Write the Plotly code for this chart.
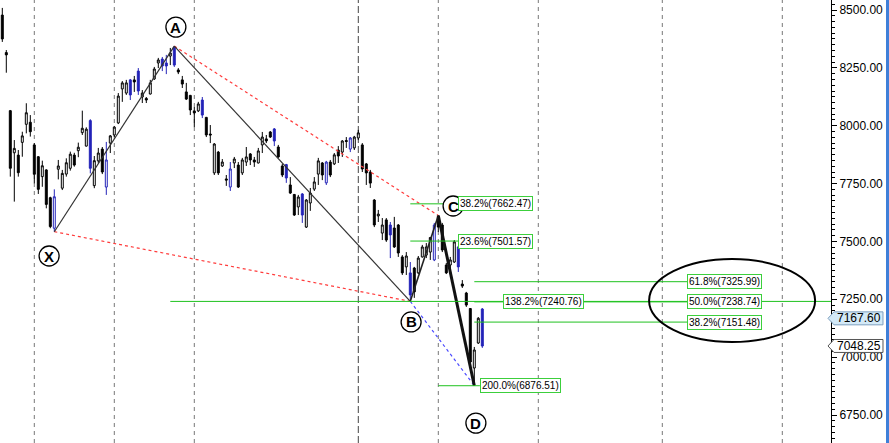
import plotly.graph_objects as go

# ---------------- data ----------------
opens = [8478, 8316, 8065, 7883, 7873, 7928, 8006, 8015, 7917, 7866,
         7780, 7809, 7689, 7557, 7812, 7730, 7791, 7816, 7873, 7892,
         7970, 7912, 8022, 7741, 7848, 7899, 7735, 7925, 7960, 8012,
         8159, 8141, 8198, 8198, 8236, 8124, 8118, 8137, 8202, 8271,
         8288, 8271, 8301, 8340, 8241, 8198, 8146, 8131, 8064, 8064,
         8111, 8036, 7964, 7796, 7886, 7826, 7770, 7735, 7839, 7830,
         7796, 7843, 7878, 7852, 7839, 7917, 7943, 7973, 7986, 7908,
         7826, 7832, 7744, 7703, 7649, 7705, 7562, 7666, 7726, 7791,
         7839, 7753, 7843, 7835, 7895, 7886, 7936, 7899, 7904, 7947,
         7917, 7835, 7800, 7679, 7610, 7536, 7593, 7571, 7558, 7571,
         7433, 7390, 7364, 7385, 7364, 7433, 7441, 7454, 7420, 7608,
         7571, 7398, 7398, 7411, 7476, 7316, 7277, 7210, 6953, 7061,
         7208]
highs = [8509, 8327, 8068, 7938, 7895, 7974, 8097, 8046, 7925, 7869,
         7849, 7812, 7693, 7725, 7852, 7809, 7859, 7888, 7883, 7927,
         8065, 7993, 8028, 7869, 7904, 7908, 7930, 7960, 7999, 8141,
         8193, 8198, 8202, 8215, 8249, 8154, 8124, 8198, 8254, 8293,
         8297, 8306, 8336, 8344, 8249, 8215, 8185, 8133, 8081, 8103,
         8124, 8038, 8003, 7925, 7891, 7856, 7787, 7843, 7865, 7843,
         7861, 7908, 7882, 7865, 7904, 7973, 7960, 7977, 7990, 7917,
         7835, 7835, 7778, 7705, 7701, 7709, 7683, 7731, 7778, 7861,
         7843, 7848, 7852, 7882, 7912, 7938, 7951, 7951, 7956, 7982,
         7925, 7839, 7809, 7683, 7636, 7601, 7601, 7584, 7606, 7575,
         7441, 7454, 7411, 7390, 7437, 7485, 7493, 7519, 7580, 7612,
         7580, 7407, 7433, 7506, 7480, 7333, 7282, 7212, 7044, 7173,
         7212]
lows = [8362, 8229, 7780, 7672, 7780, 7866, 7967, 7953, 7751, 7705,
        7736, 7643, 7557, 7542, 7768, 7722, 7780, 7806, 7823, 7864,
        7960, 7910, 7794, 7730, 7839, 7791, 7701, 7882, 7951, 8007,
        8103, 8133, 8111, 8146, 8133, 8098, 8098, 8135, 8198, 8249,
        8236, 8223, 8262, 8254, 8223, 8163, 8111, 8046, 7994, 8059,
        8033, 7951, 7925, 7787, 7787, 7822, 7740, 7718, 7817, 7731,
        7787, 7826, 7830, 7822, 7837, 7882, 7925, 7947, 7912, 7861,
        7778, 7753, 7705, 7610, 7614, 7580, 7558, 7632, 7718, 7744,
        7765, 7744, 7778, 7830, 7839, 7865, 7904, 7886, 7895, 7938,
        7800, 7744, 7731, 7562, 7584, 7506, 7498, 7428, 7472, 7433,
        7355, 7355, 7241, 7256, 7359, 7430, 7428, 7420, 7415, 7541,
        7454, 7359, 7377, 7407, 7368, 7299, 7217, 6970, 6877, 7057,
        7040]
closes = [8375, 8306, 7816, 7902, 7797, 7956, 8056, 7974, 7790, 7725,
          7827, 7660, 7564, 7693, 7826, 7794, 7840, 7877, 7830, 7907,
          7989, 7985, 7816, 7849, 7882, 7800, 7852, 7956, 7994, 8128,
          8185, 8185, 8133, 8189, 8150, 8141, 8111, 8185, 8245, 8284,
          8258, 8258, 8314, 8262, 8232, 8180, 8115, 8068, 8055, 8094,
          8046, 7960, 7960, 7921, 7796, 7843, 7765, 7813, 7856, 7735,
          7852, 7865, 7852, 7843, 7891, 7951, 7934, 7951, 7934, 7865,
          7787, 7774, 7709, 7614, 7692, 7614, 7679, 7709, 7757, 7848,
          7787, 7843, 7787, 7874, 7869, 7934, 7932, 7947, 7951, 7969,
          7813, 7796, 7752, 7571, 7618, 7571, 7506, 7528, 7476, 7450,
          7364, 7437, 7269, 7282, 7428, 7476, 7476, 7517, 7571, 7562,
          7463, 7364, 7420, 7498, 7390, 7307, 7225, 6979, 7031, 7168,
          7048]
blue_bars = [13, 22, 26, 32, 34, 40, 41, 43, 50, 57, 68, 71, 75, 81, 87,
             97, 102, 108, 114, 120]

# harmonic pattern pivots: (name, bar index, which price)
pivot_names = ["X", "A", "B", "C", "D"]
pivot_bars = [13, 43, 102, 109, 118]
pivot_kind = ["low", "high", "low", "high", "low"]

fib_labels = ["38.2%(7662.47)", "23.6%(7501.57)", "138.2%(7240.76)", "200.0%(6876.51)",
              "61.8%(7325.99)", "50.0%(7238.74)", "38.2%(7151.48)"]
fib_values = [7662.47, 7501.57, 7240.76, 6876.51, 7325.99, 7238.74, 7151.48]

last_price = 7167.60
prev_price = 7048.25

# ---------------- layout helpers ----------------
fib_from = [102, 102, 42, 109, 118, 118, 118]
fib_to = [114, 114, 207.2, 119.4, 171.2, 171.2, 171.2]
fib_box = [114, 114, 125.2, 119.4, 171.2, 171.2, 171.2]
grid_bars = [8, 28, 48, 89, 109, 134, 165, 195]
circle_pos = {"X": (11.7, 7437), "A": (43.4, 8426), "B": (102.2, 7152),
              "C": (112.7, 7653), "D": (118.4, 6715)}

n = len(opens)
idx = list(range(n))
norm = [i for i in idx if i not in blue_bars]

def pick(arr, sel):
    return [arr[i] for i in sel]

BLUE = "#2323b8"
fig = go.Figure()

fig.add_trace(go.Candlestick(
    x=norm, open=pick(opens, norm), high=pick(highs, norm),
    low=pick(lows, norm), close=pick(closes, norm),
    increasing=dict(line=dict(color="black", width=1), fillcolor="white"),
    decreasing=dict(line=dict(color="black", width=1), fillcolor="black"),
    whiskerwidth=0, hoverinfo="skip", showlegend=False))
fig.add_trace(go.Candlestick(
    x=blue_bars, open=pick(opens, blue_bars), high=pick(highs, blue_bars),
    low=pick(lows, blue_bars), close=pick(closes, blue_bars),
    increasing=dict(line=dict(color=BLUE, width=1), fillcolor="white"),
    decreasing=dict(line=dict(color=BLUE, width=1), fillcolor=BLUE),
    whiskerwidth=0, hoverinfo="skip", showlegend=False))

pv = {}
for nm, b, k in zip(pivot_names, pivot_bars, pivot_kind):
    pv[nm] = (b, lows[b] if k == "low" else highs[b])

def seg(p, q, color, width, dash="solid"):
    fig.add_trace(go.Scatter(x=[pv[p][0], pv[q][0]], y=[pv[p][1], pv[q][1]],
                             mode="lines", line=dict(color=color, width=width, dash=dash),
                             hoverinfo="skip", showlegend=False))

seg("X", "B", "#ff3b3b", 1.2, "3px,3px")
seg("A", "C", "#ff3b3b", 1.2, "3px,3px")
seg("B", "D", "#4a4aff", 1.2, "3px,3px")
seg("X", "A", "#333333", 1.2)
seg("A", "B", "#333333", 1.2)
seg("B", "C", "#222222", 1.6)
seg("C", "D", "#111111", 3)

shapes = []
annotations = []

# vertical dashed separators
for g in grid_bars:
    dark = (g == 89)
    shapes.append(dict(type="line", xref="x", yref="paper", x0=g, x1=g, y0=0, y1=1,
                       layer="below",
                       line=dict(color="#444444" if dark else "#777777", width=1,
                                 dash="7px,3px" if dark else "4px,4px")))

# fib level lines and labels
GREEN = "#1fc21f"
for lab, val, a, b, bx in zip(fib_labels, fib_values, fib_from, fib_to, fib_box):
    shapes.append(dict(type="line", xref="x", yref="y", x0=a, x1=b, y0=val, y1=val,
                       layer="above", line=dict(color=GREEN, width=1)))
    annotations.append(dict(x=bx, y=val, xref="x", yref="y", text=lab, showarrow=False,
                            xanchor="left", yanchor="middle",
                            font=dict(family="Liberation Sans", size=10, color="black"),
                            bgcolor="white", bordercolor="#3ccf3c", borderwidth=1, borderpad=1))

# pivot circles
for nm in pivot_names:
    cx, cy = circle_pos[nm]
    shapes.append(dict(type="circle", xref="x", yref="y", xsizemode="pixel", ysizemode="pixel",
                       xanchor=cx, yanchor=cy, x0=-10, x1=10, y0=-10, y1=10,
                       layer="above", fillcolor="white", line=dict(color="black", width=1.3)))
    annotations.append(dict(x=cx, y=cy, xref="x", yref="y", text="<b>%s</b>" % nm,
                            showarrow=False, xanchor="center", yanchor="middle",
                            font=dict(family="Liberation Sans", size=15, color="black")))

# ellipse around target zone
shapes.append(dict(type="circle", xref="x", yref="y", x0=161.7, x1=203.2, y0=7065, y1=7424,
                   layer="above", line=dict(color="black", width=2)))

# price markers on the axis
W = 831.0
def marker(price, fill, border):
    h = 28
    xt, xl, xr = 828 / W, 834 / W, 883 / W
    shapes.append(dict(type="path", xref="paper", yref="y", layer="above",
                       path="M %f,%f L %f,%f L %f,%f L %f,%f L %f,%f Z" % (
                           xt, price, xl, price + h, xr, price + h, xr, price - h, xl, price - h),
                       fillcolor=fill, line=dict(color=border, width=1)))
    annotations.append(dict(x=(xl + xr) / 2, y=price, xref="paper", yref="y",
                            text="%.2f" % price, showarrow=False, xanchor="center",
                            yanchor="middle",
                            font=dict(family="Liberation Sans", size=12, color="black")))

marker(last_price, "#d3e9f7", "#7d9fbf")
marker(prev_price, "white", "#555555")

# blue bar at right edge
shapes.append(dict(type="rect", xref="paper", yref="paper", x0=886 / W, x1=889.5 / W,
                   y0=0, y1=1, fillcolor="#3f7fd8", line=dict(width=0), layer="above"))

fig.update_layout(
    width=889, height=443,
    margin=dict(l=0, r=58, t=0, b=0, pad=0, autoexpand=False),
    paper_bgcolor="white", plot_bgcolor="white",
    showlegend=False, hovermode=False,
    shapes=shapes, annotations=annotations,
    xaxis=dict(range=[-0.575, 207.175], visible=False, rangeslider=dict(visible=False),
               showgrid=False, zeroline=False, automargin=False),
    yaxis=dict(range=[6629, 8543.2], side="right", showgrid=False, zeroline=False,
               automargin=False,
               dtick=250, tick0=0, tickformat=".2f", ticks="outside", ticklen=5,
               tickcolor="black", showline=True, linecolor="black", linewidth=1,
               minor=dict(dtick=25, ticks="outside", ticklen=3, tickcolor="black"),
               tickfont=dict(family="Liberation Sans", size=12, color="black")),
)

fig.write_html("out.html", config={"displayModeBar": False},
               post_script="document.body.style.margin='0';document.body.style.overflow='hidden';")
